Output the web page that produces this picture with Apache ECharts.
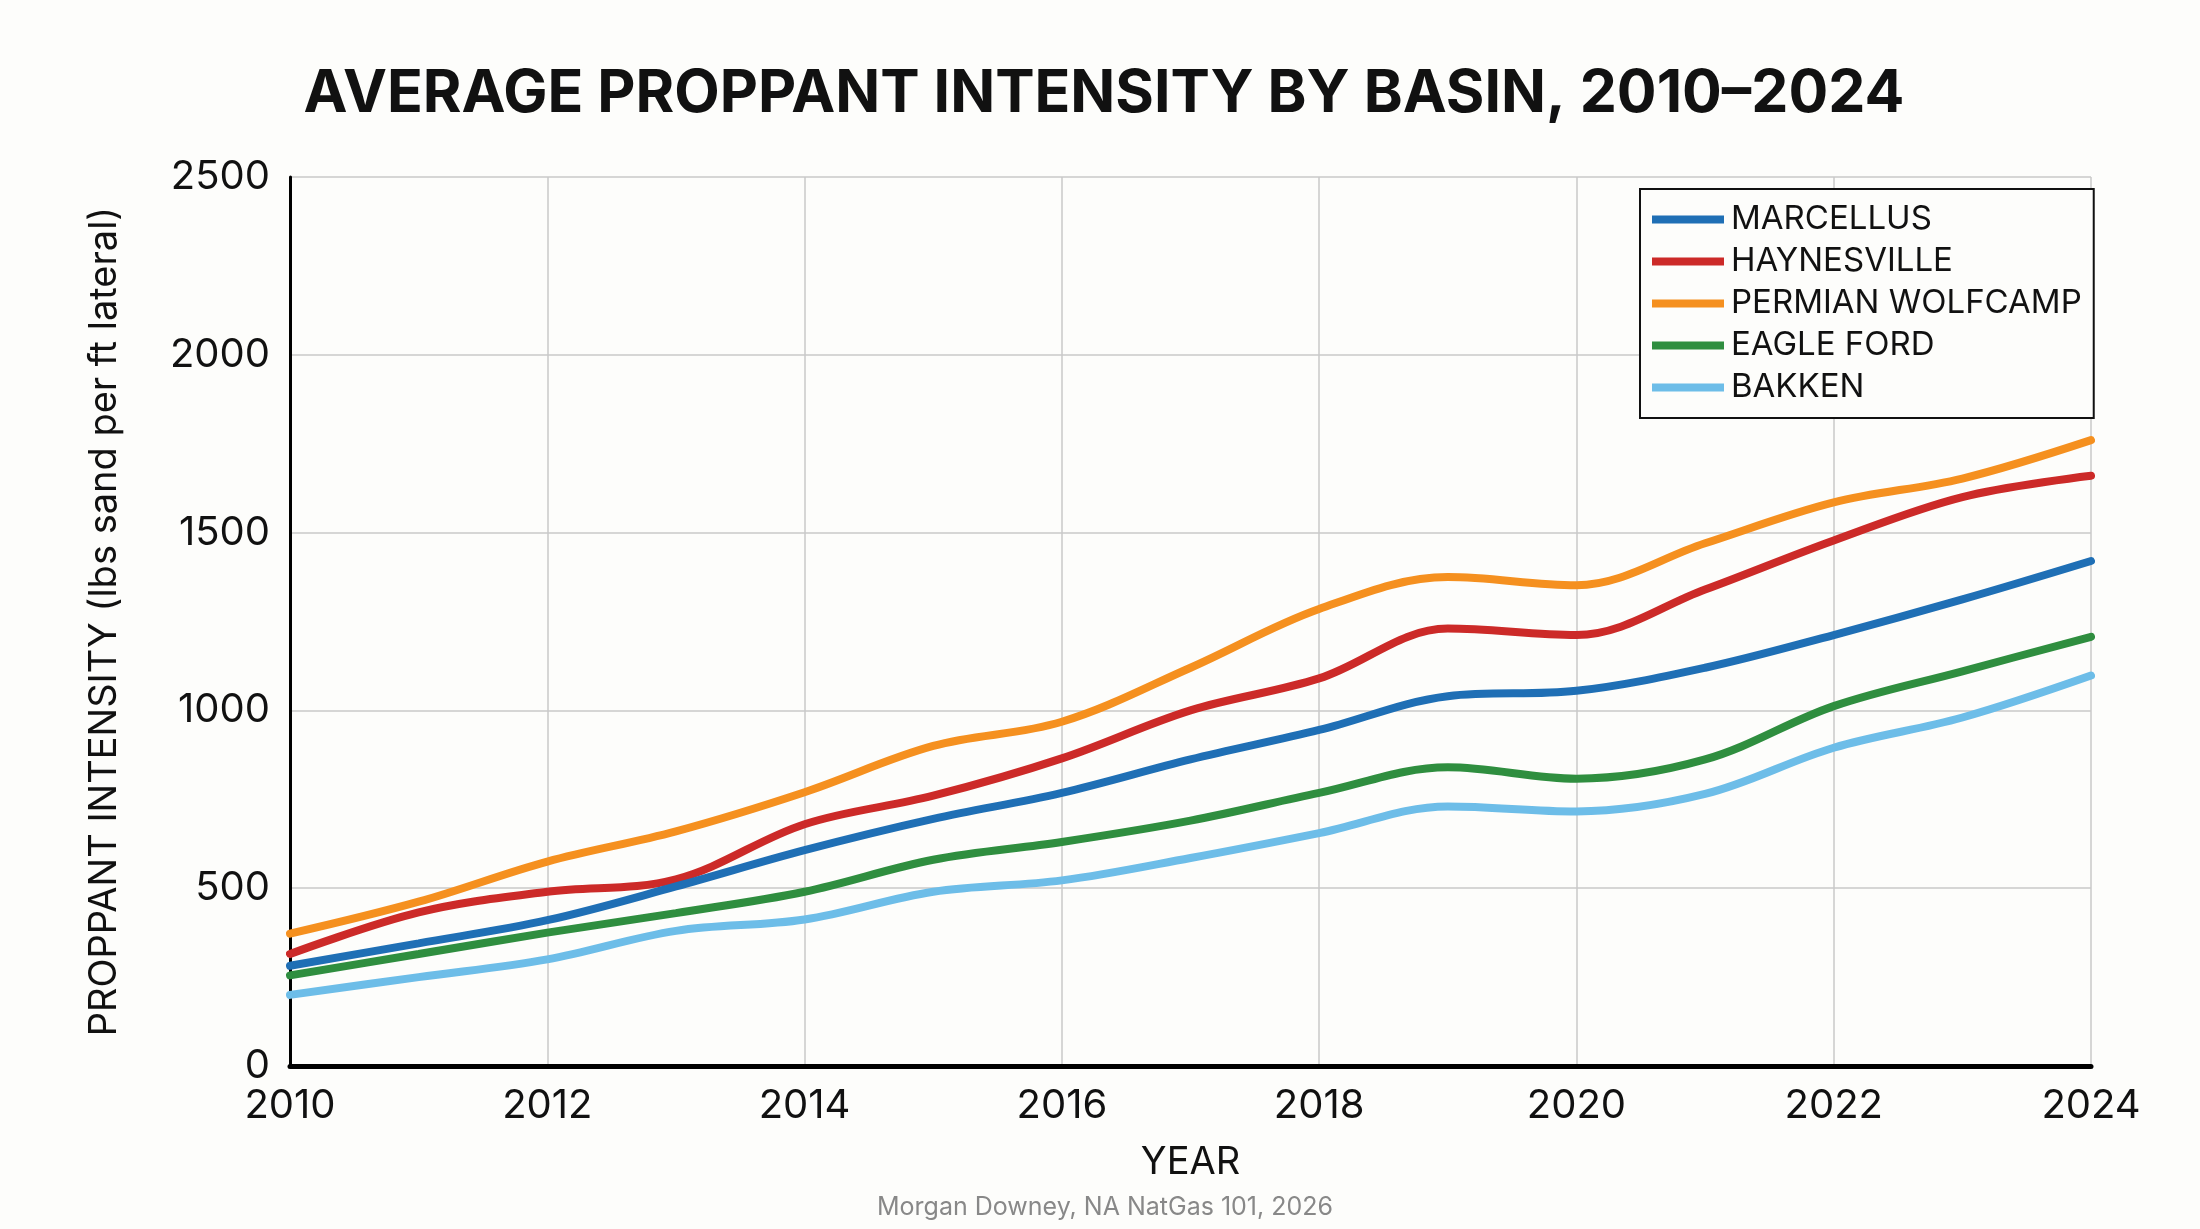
<!DOCTYPE html>
<html>
<head>
<meta charset="utf-8">
<script src="https://cdn.jsdelivr.net/npm/echarts@6/dist/echarts.min.js"></script>
<style>
  html, body { margin: 0; padding: 0; background: #fdfdfb; }
  #chart { width: 2200px; height: 1229px; }
</style>
</head>
<body>
<div id="chart"></div>
<script>
var years = [2010, 2011, 2012, 2013, 2014, 2015, 2016, 2017, 2018, 2019, 2020, 2021, 2022, 2023, 2024];
var seriesNames = ['MARCELLUS', 'HAYNESVILLE', 'PERMIAN WOLFCAMP', 'EAGLE FORD', 'BAKKEN'];
var marcellus   = [282, 345, 410, 505, 607, 695, 768, 862, 945, 1040, 1055, 1120, 1212, 1312, 1420];
var haynesville = [315, 432, 490, 525, 680, 760, 865, 1000, 1090, 1230, 1212, 1340, 1478, 1600, 1660];
var permian     = [372, 462, 575, 660, 770, 900, 968, 1120, 1285, 1375, 1352, 1470, 1585, 1652, 1760];
var eagleFord   = [255, 315, 375, 430, 490, 580, 630, 690, 768, 840, 808, 862, 1012, 1110, 1207];
var bakken      = [200, 250, 300, 380, 412, 490, 522, 585, 655, 730, 716, 765, 895, 980, 1098];
var colors = ['#1f6fb5', '#cc2a28', '#f5901f', '#2f8e3f', '#6dbde8'];

var allValues = [marcellus, haynesville, permian, eagleFord, bakken];
var fontFam = 'Inter, "Noto Sans", sans-serif';

var chart = echarts.init(document.getElementById('chart'), null, { renderer: 'canvas' });

function pairs(vals) {
  return years.map(function (y, i) { return [y, vals[i]]; });
}

var option = {
  backgroundColor: '#fdfdfb',
  color: colors,
  animation: false,
  title: [
    {
      text: 'AVERAGE PROPPANT INTENSITY BY BASIN, 2010\u20132024',
      left: 1099,
      top: 60,
      textAlign: 'center',
      textStyle: { fontFamily: fontFam, fontWeight: 'bold', fontSize: 59, color: '#111' }
    },
    {
      text: 'Morgan Downey, NA NatGas 101, 2026',
      left: 1100,
      top: 1190,
      textAlign: 'center',
      textStyle: { fontFamily: fontFam, fontWeight: 'normal', fontSize: 25, color: '#888' }
    }
  ],
  legend: {
    data: seriesNames,
    orient: 'vertical',
    left: 1640,
    top: 189,
    padding: [14, 12, 14, 12],
    backgroundColor: '#fdfdfb',
    borderColor: '#111',
    borderWidth: 2,
    borderRadius: 0,
    icon: 'rect',
    itemWidth: 72,
    itemHeight: 8,
    itemGap: 9,
    textStyle: { fontFamily: fontFam, fontSize: 33, color: '#111', padding: [0, 0, 0, 2] }
  },
  grid: { left: 290, right: 109, top: 177, bottom: 163, containLabel: false },
  xAxis: {
    type: 'value',
    min: 2010,
    max: 2024,
    interval: 2,
    name: 'YEAR',
    nameLocation: 'middle',
    nameGap: 78,
    nameTextStyle: { fontFamily: fontFam, fontSize: 38, color: '#111' },
    axisLine: { show: true, lineStyle: { color: '#000', width: 5 } },
    axisTick: { show: false },
    axisLabel: { fontFamily: fontFam, fontSize: 40, color: '#111', margin: 20, formatter: function (v) { return String(v); } },
    splitLine: { show: true, lineStyle: { color: '#c8c8c8', width: 1.5 } }
  },
  yAxis: {
    type: 'value',
    min: 0,
    max: 2500,
    interval: 500,
    name: 'PROPPANT INTENSITY (lbs sand per ft lateral)',
    nameLocation: 'middle',
    nameGap: 166,
    nameTextStyle: { fontFamily: fontFam, fontSize: 38, color: '#111' },
    axisLine: { show: true, lineStyle: { color: '#000', width: 3 } },
    axisTick: { show: false },
    axisLabel: { fontFamily: fontFam, fontSize: 40, color: '#111', margin: 20, formatter: function (v) { return String(v); } },
    splitLine: { show: true, lineStyle: { color: '#c8c8c8', width: 1.5 } }
  },
  series: seriesNames.map(function (name, i) {
    return {
      name: name,
      type: 'line',
      data: pairs(allValues[i]),
      smooth: 0.35,
      showSymbol: false,
      symbol: 'none',
      lineStyle: { width: 8, color: colors[i], cap: 'round' },
      z: 5 - i
    };
  })
};

chart.setOption(option);
</script>
</body>
</html>
